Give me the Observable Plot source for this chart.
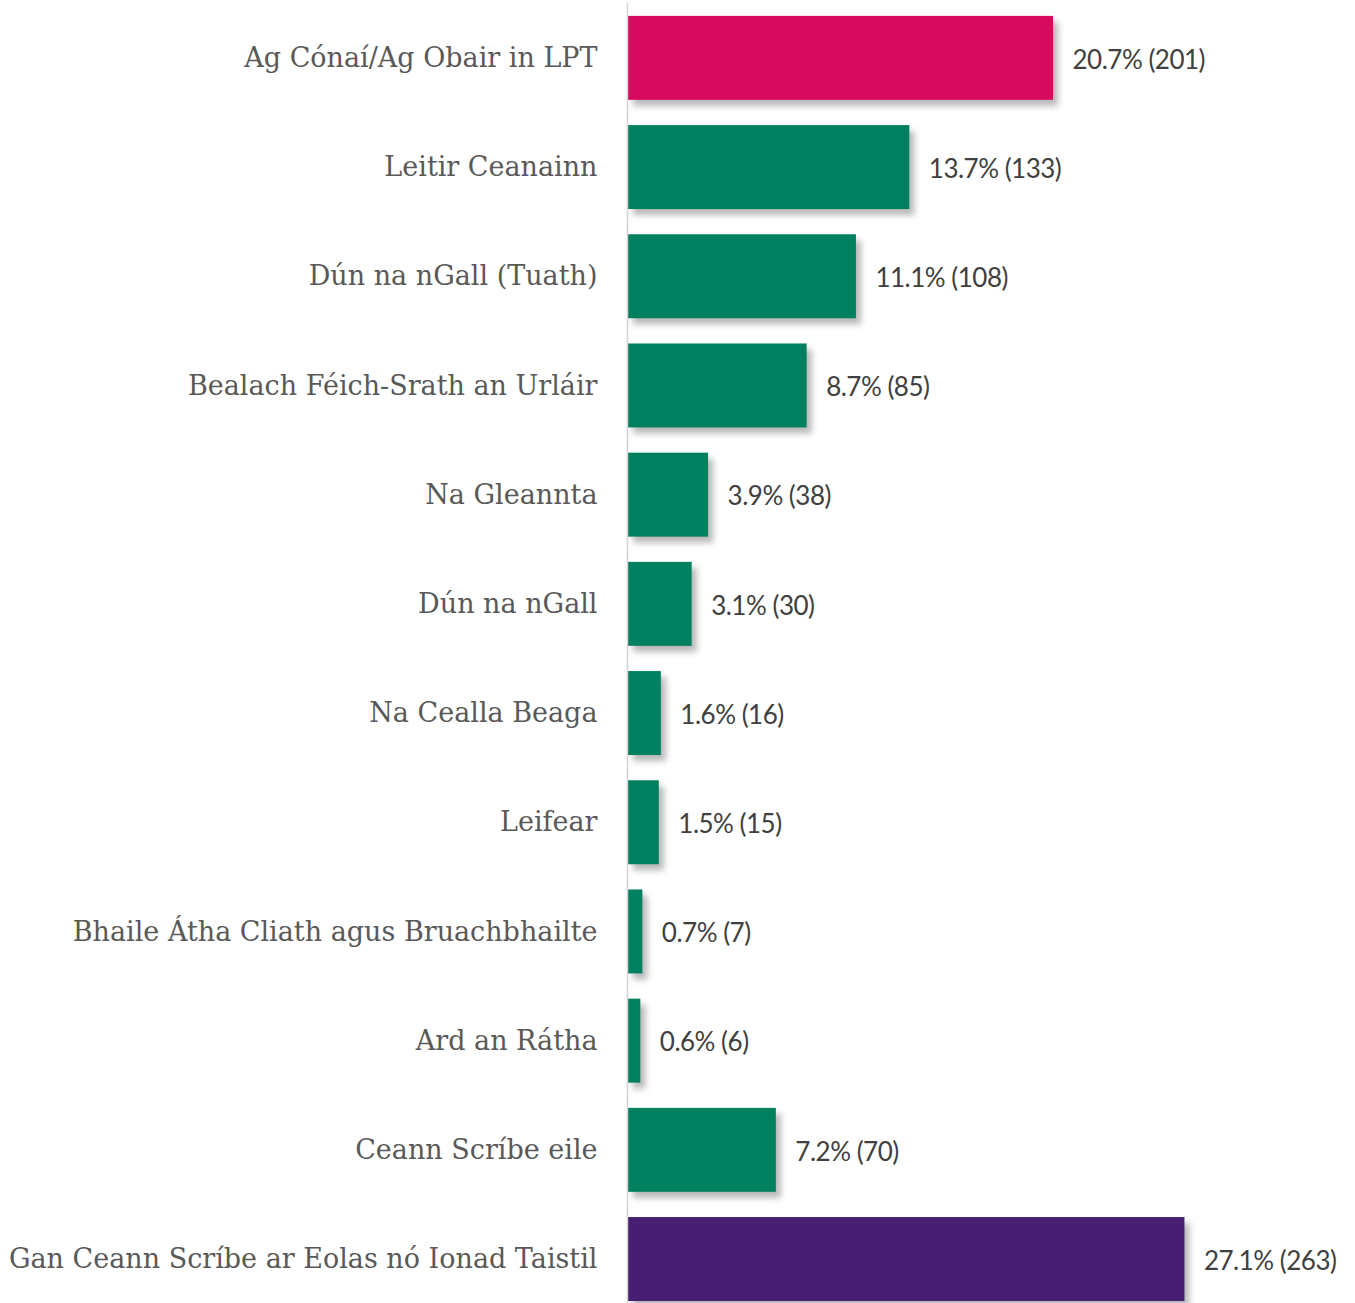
<!DOCTYPE html>
<html><head><meta charset="utf-8">
<script src="https://cdn.jsdelivr.net/npm/d3@7"></script>
<script src="https://cdn.jsdelivr.net/npm/@observablehq/plot@0.6"></script>
<style>
body{margin:0;background:#fff}
g[aria-label="bar"] rect{filter:drop-shadow(5px 6px 3px rgba(0,0,0,0.28));}
</style>
</head><body><div id="chart"></div><script>
const categories = ["Ag Cónaí/Ag Obair in LPT","Leitir Ceanainn","Dún na nGall (Tuath)","Bealach Féich-Srath an Urláir","Na Gleannta","Dún na nGall","Na Cealla Beaga","Leifear","Bhaile Átha Cliath agus Bruachbhailte","Ard an Rátha","Ceann Scríbe eile","Gan Ceann Scríbe ar Eolas nó Ionad Taistil"];
const percents = [20.7,13.7,11.1,8.7,3.9,3.1,1.6,1.5,0.7,0.6,7.2,27.1];
const counts = [201,133,108,85,38,30,16,15,7,6,70,263];
const groups = ["lpt","dest","dest","dest","dest","dest","dest","dest","dest","dest","dest","unknown"];
const groupDomain = ["lpt","dest","unknown"];
const groupColors = ["#D70A5E","#00805F","#461F72"];
const data = categories.map((c,i)=>({category:c,pct:percents[i],n:counts[i],group:groups[i]}));
const plot = Plot.plot({
  width:1355, height:1303, marginLeft:628, marginRight:111, marginTop:3, marginBottom:0,
  x:{domain:[0,30], axis:null},
  y:{domain:categories, axis:null, paddingInner:0.231, paddingOuter:0.068, align:0.867, round:false},
  color:{domain:groupDomain, range:groupColors},
  marks:[
    Plot.barX(data,{x:"pct", y:"category", fill:"group"}),
    Plot.ruleX([0],{stroke:"#d4d4d4", strokeWidth:1.5, dx:-1}),
    Plot.text(data,{y:"category", text:"category", frameAnchor:"left", dx:-31, textAnchor:"end", fill:"#595959", fontSize:27, fontFamily:"DejaVu Serif"}),
    Plot.text(data,{x:"pct", y:"category", text:d=>`${d.pct.toFixed(1)}% (${d.n})`, dx:19, dy:2, textAnchor:"start", fill:"#404040", fontSize:26, fontFamily:"Lato"})
  ]
});
const texts = d3.select(plot).selectAll('g[aria-label="text"]').nodes();
d3.select(texts[1]).selectAll("text").style("letter-spacing","-0.5px");
document.getElementById("chart").appendChild(plot);
</script></body></html>
